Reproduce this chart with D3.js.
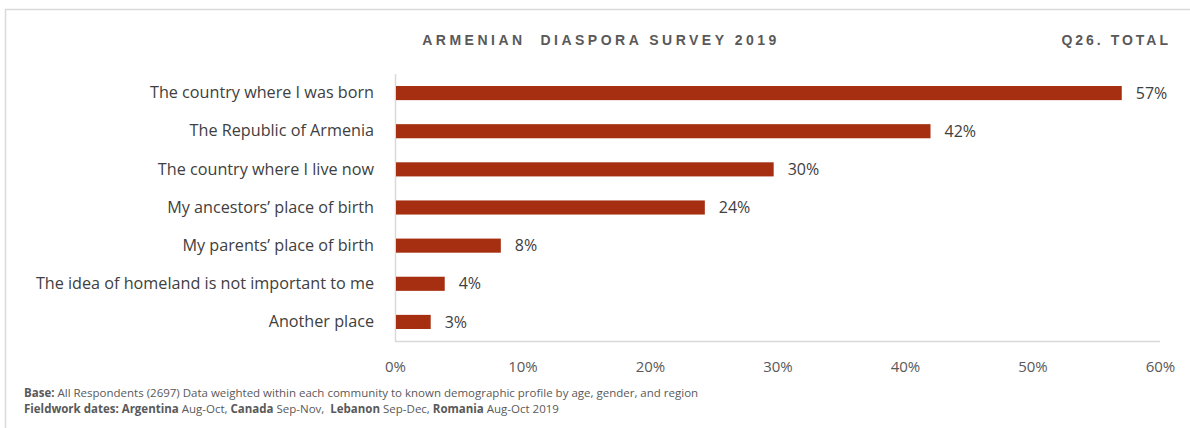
<!DOCTYPE html>
<html><head><meta charset="utf-8">
<script src="https://cdn.jsdelivr.net/npm/d3@7"></script>
<style>
body{margin:0;background:#fff;}
svg text{font-family:"Open Sans",sans-serif;}
</style></head>
<body><svg id="c" width="1190" height="428"></svg>
<script>
const categories = ["The country where I was born","The Republic of Armenia","The country where I live now","My ancestors\u2019 place of birth","My parents\u2019 place of birth","The idea of homeland is not important to me","Another place"];
const values = [57.0, 42.0, 29.7, 24.3, 8.3, 3.9, 2.8];
const valueLabels = ["57%","42%","30%","24%","8%","4%","3%"];
const tickValues = [0,10,20,30,40,50,60];
const tickLabels = ["0%","10%","20%","30%","40%","50%","60%"];

const svg = d3.select("#c");
// outer frame
svg.append("path").attr("d","M5.5,428 V9.5 H1190").attr("fill","none").attr("stroke","#d9d9d9").attr("stroke-width",1.5);

const x = d3.scaleLinear().domain([0,60]).range([395,1160]);
const y = d3.scaleBand().domain(categories).range([74,341]).paddingInner(0.63).paddingOuter(0.315);

// title
svg.append("text").attr("x",601).attr("y",45).attr("text-anchor","middle")
  .attr("font-size",14).attr("font-weight","bold").attr("fill","#595959").attr("letter-spacing","3.5px")
  .style("font-family","'Liberation Sans','DejaVu Sans',sans-serif")
  .text("ARMENIAN\u00a0\u00a0DIASPORA SURVEY 2019");
svg.append("text").attr("x",1171).attr("y",45).attr("text-anchor","end")
  .attr("font-size",14).attr("font-weight","bold").attr("fill","#595959").attr("letter-spacing","3px")
  .style("font-family","'Liberation Sans','DejaVu Sans',sans-serif")
  .text("Q26. TOTAL");

// axes lines
svg.append("line").attr("x1",395.5).attr("x2",395.5).attr("y1",74).attr("y2",341.5).attr("stroke","#d9d9d9").attr("stroke-width",1.5);
svg.append("line").attr("x1",395).attr("x2",1160).attr("y1",341.5).attr("y2",341.5).attr("stroke","#d9d9d9").attr("stroke-width",1.5);

// x tick labels
const xAxis = d3.axisBottom(x).tickValues(tickValues).tickFormat((d,i)=>tickLabels[i]).tickSize(0).tickPadding(0);
const gx = svg.append("g").attr("transform","translate(0,372)").call(xAxis);
gx.select(".domain").remove();
gx.selectAll("text").attr("font-size",15).attr("fill","#595959").attr("dy",0)
  .style("font-family","'Open Sans',sans-serif");

// y labels
const yAxis = d3.axisLeft(y).tickSize(0).tickPadding(0);
const gy = svg.append("g").attr("transform","translate(374,0)").call(yAxis);
gy.select(".domain").remove();
gy.selectAll("text").attr("font-size",16.2).attr("fill","#404040")
  .style("font-family","'Open Sans',sans-serif");

// bars
svg.selectAll("rect.bar").data(values).enter().append("rect").attr("class","bar")
  .attr("x",x(0)+1).attr("y",(d,i)=>y(categories[i]))
  .attr("width",d=>x(d)-x(0)-1).attr("height",y.bandwidth())
  .attr("fill","#a52f10");

// value labels
svg.selectAll("text.val").data(values).enter().append("text").attr("class","val")
  .attr("x",d=>x(d)+14).attr("y",(d,i)=>y(categories[i])+y.bandwidth()/2).attr("dy","0.35em")
  .attr("font-size",16).attr("fill","#404040").text((d,i)=>valueLabels[i]);

// footer
const f1 = svg.append("text").attr("x",24).attr("y",397).attr("font-size",11.5).attr("fill","#595959");
f1.append("tspan").attr("font-weight","bold").text("Base:");
f1.append("tspan").text(" All Respondents (2697) Data weighted within each community to known demographic profile by age, gender, and region");
const f2 = svg.append("text").attr("x",24).attr("y",413).attr("font-size",11.5).attr("fill","#595959");
[["Fieldwork dates: ",1],["Argentina",1],[" Aug-Oct, ",0],["Canada",1],[" Sep-Nov,  ",0],["Lebanon",1],[" Sep-Dec, ",0],["Romania",1],[" Aug-Oct 2019",0]]
  .forEach(([t,b])=>f2.append("tspan").attr("font-weight",b?"bold":"normal").style("white-space","pre").text(t));
</script></body></html>
